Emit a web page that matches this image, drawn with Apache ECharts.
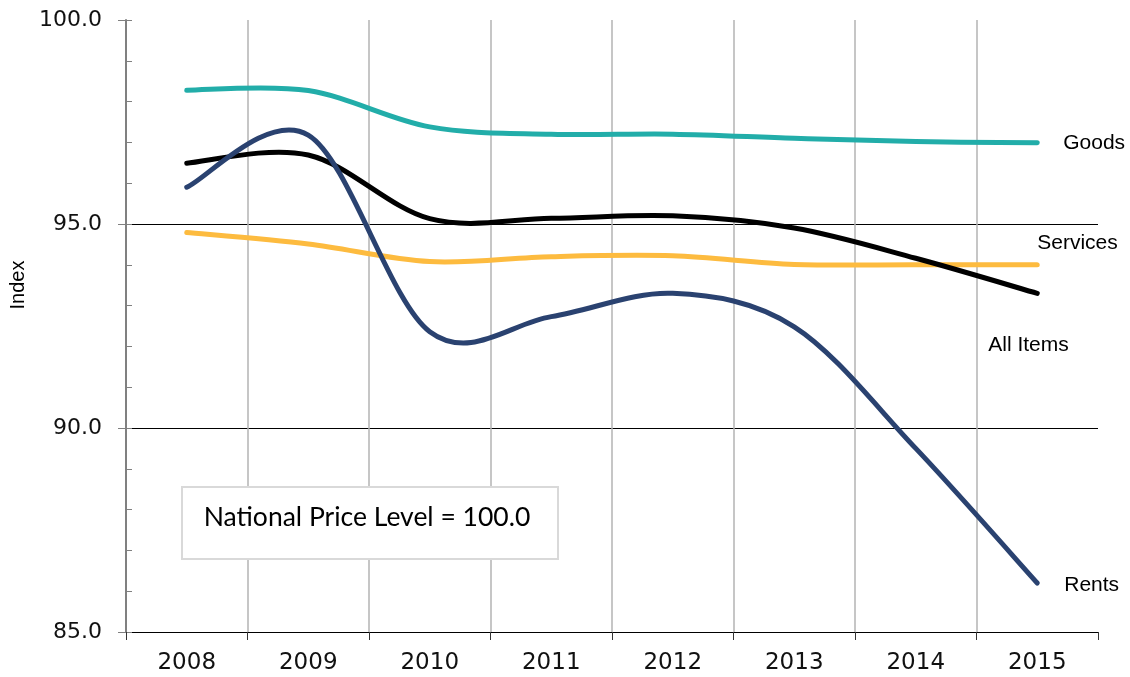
<!DOCTYPE html>
<html><head><meta charset="utf-8">
<script src="https://cdn.jsdelivr.net/npm/echarts@6/dist/echarts.min.js"></script>
<style>html,body{margin:0;padding:0;background:#fff}#c{width:1130px;height:677px}</style>
</head><body><div id="c"></div>
<script>
const years = ['2008','2009','2010','2011','2012','2013','2014','2015'];
const goods = [98.28, 98.27, 97.38, 97.2, 97.2, 97.1, 97.02, 96.99];
const services = [94.79, 94.51, 94.08, 94.2, 94.22, 94.01, 94.0, 94.0];
const allItems = [96.49, 96.69, 95.13, 95.14, 95.2, 94.9, 94.16, 93.3];
const rents = [95.9, 97.18, 92.36, 92.73, 93.3, 92.48, 89.5, 86.2];
const yMin = 85, yMax = 100, yStep = 5;
const noteText = 'National Price Level = 100.0';

function smoothPath(pts) {
  const n = pts.length;
  let d = 'M' + pts[0][0] + ' ' + pts[0][1];
  for (let i = 0; i < n - 1; i++) {
    const p0 = pts[Math.max(i - 1, 0)], p1 = pts[i], p2 = pts[i + 1], p3 = pts[Math.min(i + 2, n - 1)];
    const c1x = p1[0] + (p2[0] - p0[0]) / 6, c1y = p1[1] + (p2[1] - p0[1]) / 6;
    const c2x = p2[0] - (p3[0] - p1[0]) / 6, c2y = p2[1] - (p3[1] - p1[1]) / 6;
    d += ' C' + c1x + ' ' + c1y + ' ' + c2x + ' ' + c2y + ' ' + p2[0] + ' ' + p2[1];
  }
  return d;
}

function makeSeries(name, values, color, labelOffset, z) {
  return {
    type: 'custom', name: name, z: z, silent: true, clip: false,
    data: values.map((v, i) => [i, v]),
    renderItem: function (params, api) {
      const last = values.length - 1;
      if (params.dataIndex === 0) {
        const pts = values.map((v, i) => api.coord([i, v]));
        return {
          type: 'path',
          shape: { pathData: smoothPath(pts) },
          style: { stroke: color, lineWidth: 5, fill: null, lineCap: 'round', lineJoin: 'round' }
        };
      }
      if (params.dataIndex === last) {
        const p = api.coord([last, values[last]]);
        return {
          type: 'text', x: p[0] + labelOffset[0], y: p[1] + labelOffset[1],
          style: { text: name, fill: '#000', font: '21px "Liberation Sans", Arial, sans-serif', align: 'left', verticalAlign: 'middle' }
        };
      }
      return null;
    }
  };
}

const chart = echarts.init(document.getElementById('c'), null, { renderer: 'canvas' });
chart.setOption({
  animation: false,
  backgroundColor: '#fff',
  grid: { left: 126, right: 32, top: 20, bottom: 45, containLabel: false },
  xAxis: {
    type: 'category', data: years, boundaryGap: true,
    axisLine: { show: true, lineStyle: { color: '#000', width: 1 } },
    axisTick: { show: true, alignWithLabel: false, length: 8, lineStyle: { color: '#333', width: 1 } },
    axisLabel: { color: '#111', fontFamily: '"DejaVu Sans", Verdana, sans-serif', fontSize: 23, margin: 20 },
    splitLine: { show: true, showMinLine: false, showMaxLine: false, lineStyle: { color: '#b3b3b3', width: 1.5 } }
  },
  yAxis: [{
    type: 'value', min: yMin, max: yMax, interval: yStep,
    axisLine: { show: true, lineStyle: { color: '#808080', width: 2 } },
    axisTick: { show: true, length: 8, lineStyle: { color: '#808080', width: 1 } },
    axisLabel: { color: '#111', fontFamily: '"DejaVu Sans", Verdana, sans-serif', fontSize: 22, margin: 24,
      formatter: v => v.toFixed(1) },
    splitLine: { show: true, showMinLine: false, showMaxLine: false, lineStyle: { color: '#000', width: 1 } }
  }, {
    type: 'value', min: yMin, max: yMax, interval: 1, position: 'left',
    axisLine: { show: false },
    axisTick: { show: true, inside: true, length: 6, lineStyle: { color: '#808080', width: 1 } },
    axisLabel: { show: false },
    splitLine: { show: false }
  }],
  graphic: [
    { type: 'text', x: 18, y: 285, rotation: Math.PI / 2, z: 100,
      style: { text: 'Index', fill: '#000', font: '20px "Liberation Sans", Arial, sans-serif', align: 'center', verticalAlign: 'middle' } },
    { type: 'rect', x: 182, y: 487, z: 100, shape: { width: 376, height: 72 },
      style: { fill: '#fff', stroke: '#d9d9d9', lineWidth: 2 } },
    { type: 'text', x: 367, y: 517, z: 101,
      style: { text: noteText, fill: '#000', font: '26.5px Lato, "Open Sans", sans-serif', align: 'center', verticalAlign: 'middle' } }
  ],
  series: [
    makeSeries('Services', services, '#FDBB3F', [0, -22], 2),
    makeSeries('Goods', goods, '#22ADA9', [26, 0], 3),
    makeSeries('All Items', allItems, '#000000', [-49, 52], 4),
    makeSeries('Rents', rents, '#2A4270', [27, 2], 5)
  ]
});
</script>
</body></html>
